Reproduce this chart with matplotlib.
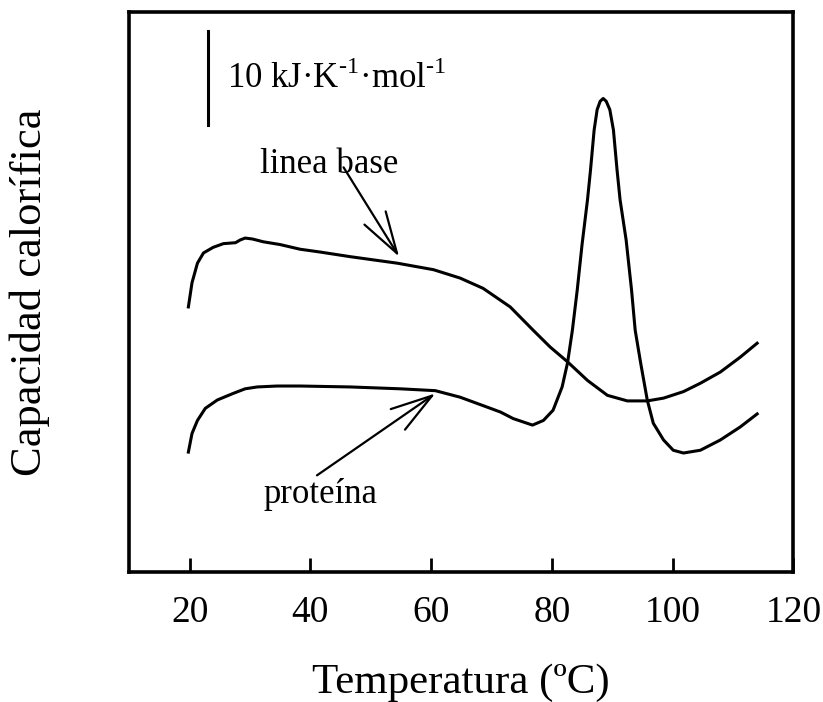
import matplotlib
matplotlib.use('Agg')
import matplotlib.pyplot as plt

plt.rcParams['font.family'] = ['Liberation Serif', 'DejaVu Serif']
plt.rcParams['mathtext.fontset'] = 'custom'
plt.rcParams['mathtext.rm'] = 'Liberation Serif'

# DSC traces, temperature in ºC, heat capacity in kJ/(K·mol) (arbitrary offset)
t_proteina = [19.8, 20.4, 21.3, 22.6, 24.6, 27.2, 29.2, 31.2, 34.5, 36.7, 38.3,
              46.6, 54.9, 60.7, 64.8, 69.0, 71.5, 73.6, 76.8, 78.6, 80.2, 81.7,
              82.6, 83.4, 84.2, 85.0, 85.9, 86.4, 87.0, 87.5, 88.0, 88.5, 89.0,
              89.6, 90.2, 90.8, 91.3, 92.3, 93.2, 93.8, 94.7, 95.8, 96.8, 98.5,
              100.1, 101.8, 104.6, 107.9, 111.2, 114.0]
cp_proteina = [12.9, 14.9, 16.3, 17.6, 18.5, 19.2, 19.7, 19.9, 20.0, 20.0, 20.0,
               19.9, 19.7, 19.5, 18.8, 17.8, 17.2, 16.5, 15.8, 16.3, 17.4, 19.9,
               22.5, 26.0, 30.3, 35.2, 40.0, 43.2, 47.5, 49.7, 50.6, 50.9, 50.6,
               49.7, 47.5, 43.2, 40.0, 35.7, 30.3, 26.0, 22.5, 18.5, 16.0, 14.2,
               13.1, 12.8, 13.1, 14.2, 15.6, 17.0]

t_base = [19.8, 20.4, 21.3, 22.3, 23.9, 25.6, 27.6, 28.4, 29.2, 30.4, 32.2, 35.0,
          38.3, 41.6, 46.6, 54.4, 60.4, 64.8, 68.6, 73.1, 76.9, 79.7, 82.6, 85.9,
          89.2, 92.5, 95.8, 98.5, 101.8, 104.6, 107.9, 111.2, 114.0]
cp_base = [28.5, 31.1, 33.2, 34.3, 34.9, 35.3, 35.4, 35.7, 35.9, 35.8, 35.5, 35.2,
           34.7, 34.4, 33.9, 33.2, 32.5, 31.6, 30.5, 28.5, 26.0, 24.2, 22.6, 20.6,
           19.0, 18.4, 18.4, 18.7, 19.4, 20.3, 21.5, 23.1, 24.6]

xticks = [20, 40, 60, 80, 100, 120]
escala = 10  # kJ·K-1·mol-1

fig = plt.figure(figsize=(8.23, 7.02), dpi=100)
ax = fig.add_axes([0.157, 0.185, 0.807, 0.798])

ax.plot(t_base, cp_base, color='black', lw=2.2, solid_joinstyle='round')
ax.plot(t_proteina, cp_proteina, color='black', lw=2.2, solid_joinstyle='round')

ax.set_xlim(10, 120)
ax.set_ylim(0, 60.2)
ax.set_xticks(xticks)
ax.set_yticks([])
ax.tick_params(axis='x', direction='in', length=10, width=2, labelsize=27, pad=17)
for s in ax.spines.values():
    s.set_linewidth(2.6)

ax.set_xlabel('Temperatura (ºC)', fontsize=31, labelpad=24)
ax.set_ylabel('Capacidad calorífica', fontsize=32, labelpad=57)

# scale bar
ax.plot([23.1, 23.1], [48.1, 48.1 + escala], color='black', lw=2.2)
ax.text(26.2, 52.0, '10 kJ·K$^{\\mathregular{\u20101}}$·mol$^{\\mathregular{\u20101}}$',
        fontsize=25)

# labels with arrows
ax.text(31.7, 42.9, 'linea base', fontsize=25)
ax.text(32.2, 7.4, 'proteína', fontsize=25)
arrow = dict(arrowstyle='->,head_length=1.2,head_width=0.36', lw=1.6,
             color='black', shrinkA=0, shrinkB=0, mutation_scale=25)
ax.annotate('', xy=(54.7, 33.9), xytext=(45.5, 43.5), arrowprops=arrow)
ax.annotate('', xy=(60.7, 19.2), xytext=(41.1, 10.4), arrowprops=arrow)

fig.savefig('out.png', dpi=100)
